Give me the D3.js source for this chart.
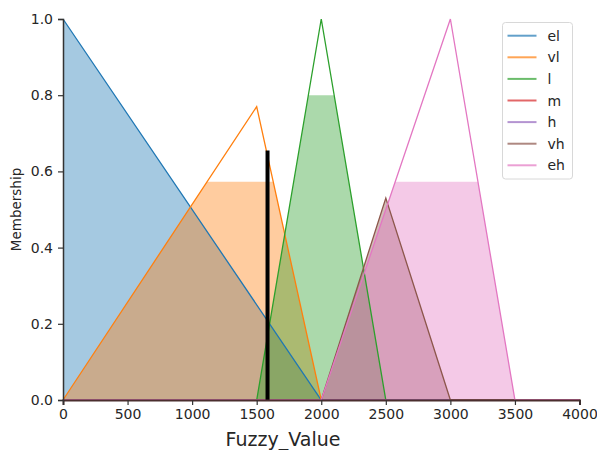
<!DOCTYPE html>
<html>
<head>
<meta charset="utf-8">
<script src="https://cdn.jsdelivr.net/npm/d3@7"></script>
<style>
  body { margin: 0; background: #fff; }
  text { font-family: "DejaVu Sans", sans-serif; fill: #262626; }
</style>
</head>
<body>
<div id="chrt"></div>
<script>
// membership terms of the output variable
const termNames = ['el', 'vl', 'l', 'm', 'h', 'vh', 'eh'];
const termColors = ['#1f77b4', '#ff7f0e', '#2ca02c', '#d62728', '#9467bd', '#8c564b', '#e377c2'];

// membership function breakpoints [x, membership]
const mfEl = [[0, 1], [2000, 0], [4000, 0]];
const mfVl = [[0, 0], [1500, 0.77], [2000, 0], [4000, 0]];
const mfL = [[0, 0], [1500, 0], [2000, 1], [2500, 0], [4000, 0]];
const mfM = [[0, 0], [4000, 0]];
const mfH = [[0, 0], [4000, 0]];
const mfVh = [[0, 0], [2000, 0], [2500, 0.53], [3000, 0], [4000, 0]];
const mfEh = [[0, 0], [2000, 0], [3000, 1], [3500, 0], [4000, 0]];
const termMfs = [mfEl, mfVl, mfL, mfM, mfH, mfVh, mfEh];

// activation level of each term (the fill is clipped there)
const activations = [1.0, 0.573, 0.8, 0, 0, 1.0, 0.573];

// defuzzified output
const crispValue = 1584;
const crispHeight = 0.655;

const xTicks = [0, 500, 1000, 1500, 2000, 2500, 3000, 3500, 4000];
const yTicks = [0, 0.2, 0.4, 0.6, 0.8, 1.0];

const width = 597, height = 450;
const margin = { left: 63, right: 17.5, top: 19, bottom: 50 };
const innerW = width - margin.left - margin.right;
const innerH = height - margin.top - margin.bottom;

const scaleX = d3.scaleLinear().domain([0, 4000]).range([0, innerW]);
const scaleY = d3.scaleLinear().domain([0, 1]).range([innerH, 0]);

const svg = d3.select('#chrt').append('svg')
    .attr('width', width)
    .attr('height', height);
const chrt = svg.append('g')
    .attr('transform', 'translate(' + margin.left + ',' + margin.top + ')');

// min(mf, level) as a polyline, with the crossing points added
function clipMf(pts, level) {
  const out = [];
  for (let i = 0; i < pts.length; i++) {
    const p = pts[i];
    if (i > 0) {
      const q = pts[i - 1];
      if ((q[1] - level) * (p[1] - level) < 0) {
        const t = (level - q[1]) / (p[1] - q[1]);
        out.push([q[0] + t * (p[0] - q[0]), level]);
      }
    }
    out.push([p[0], Math.min(p[1], level)]);
  }
  return out;
}

const area = d3.area()
    .x((d) => scaleX(d[0]))
    .y0(scaleY(0))
    .y1((d) => scaleY(d[1]));
const line = d3.line()
    .x((d) => scaleX(d[0]))
    .y((d) => scaleY(d[1]));

// activation fills
termMfs.forEach((mf, i) => {
  if (activations[i] <= 0) return;
  chrt.append('path')
      .attr('d', area(clipMf(mf, activations[i])))
      .attr('fill', termColors[i])
      .attr('fill-opacity', 0.4)
      .attr('stroke', 'none');
});

// membership lines
termMfs.forEach((mf, i) => {
  chrt.append('path')
      .attr('d', line(mf))
      .attr('fill', 'none')
      .attr('stroke', termColors[i])
      .attr('stroke-width', 1.3);
});

// crisp value
chrt.append('line')
    .attr('x1', scaleX(crispValue))
    .attr('x2', scaleX(crispValue))
    .attr('y1', scaleY(0))
    .attr('y2', scaleY(crispHeight))
    .attr('stroke', '#000')
    .attr('stroke-width', 4);

// axes (left and bottom spines only)
const xAxis = chrt.append('g')
    .attr('transform', 'translate(0,' + innerH + ')')
    .call(d3.axisBottom(scaleX).tickValues(xTicks).tickFormat(d3.format('d')).tickSizeOuter(0).tickSize(5).tickPadding(4));
const yAxis = chrt.append('g')
    .call(d3.axisLeft(scaleY).tickValues(yTicks).tickFormat(d3.format('.1f')).tickSizeOuter(0).tickSize(5).tickPadding(5));
[xAxis, yAxis].forEach((ax) => {
  ax.selectAll('text').style('font-family', '"DejaVu Sans", sans-serif').style('font-size', '14px').attr('fill', '#262626');
  ax.selectAll('line').attr('stroke', '#333').attr('stroke-width', 1.2);
});
xAxis.select('.domain').attr('stroke', '#4a2e2e').attr('stroke-width', 2);
yAxis.select('.domain').attr('stroke', '#333').attr('stroke-width', 1.5);

// axis labels
svg.append('text')
    .attr('x', 283)
    .attr('y', 446)
    .attr('text-anchor', 'middle')
    .style('font-size', '19px')
    .text('Fuzzy_Value');
svg.append('text')
    .attr('transform', 'translate(21,' + (margin.top + innerH / 2) + ') rotate(-90)')
    .attr('text-anchor', 'middle')
    .style('font-size', '13.5px')
    .text('Membership');

// legend
const legend = svg.append('g').attr('transform', 'translate(502.5,22.5)');
legend.append('rect')
    .attr('width', 70)
    .attr('height', 156.5)
    .attr('rx', 3)
    .attr('fill', '#fff')
    .attr('fill-opacity', 0.8)
    .attr('stroke', '#d8d8d8');
termNames.forEach((name, i) => {
  const y = 13.2 + i * 21.6;
  legend.append('line')
      .attr('x1', 5).attr('x2', 34)
      .attr('y1', y).attr('y2', y)
      .attr('stroke', termColors[i])
      .attr('stroke-opacity', 0.7)
      .attr('stroke-width', 2);
  legend.append('text')
      .attr('x', 45)
      .attr('y', y + 5)
      .style('font-size', '14px')
      .text(name);
});
</script>
</body>
</html>
